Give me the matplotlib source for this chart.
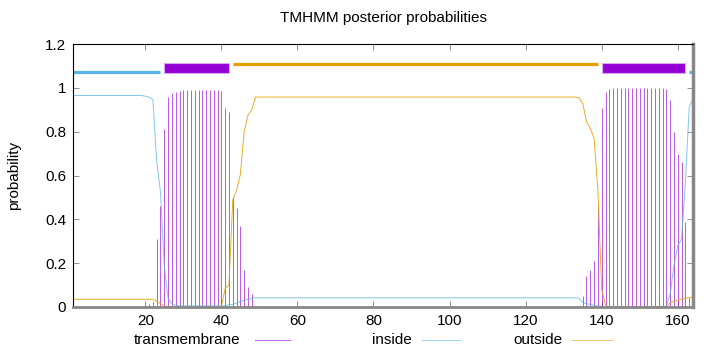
import numpy as np
import matplotlib
matplotlib.use("Agg")
import matplotlib.pyplot as plt
from matplotlib.lines import Line2D
from matplotlib.patches import Rectangle

plt.rcParams['font.family'] = ['Liberation Sans', 'DejaVu Sans']
plt.rcParams['font.size'] = 11

# residue numbers 1..164
residues = np.arange(1, 165)

# posterior probabilities, 10 residues per row
tm_prob = [
    0, 0, 0, 0, 0, 0, 0, 0, 0, 0,
    0, 0, 0, 0, 0, 0, 0, 0, 0, 0.01,
    0.012, 0.022, 0.31, 0.46, 0.81, 0.96, 0.975, 0.98, 0.985, 0.99,
    0.99, 0.99, 0.99, 0.99, 0.99, 0.99, 0.99, 0.99, 0.99, 0.985,
    0.91, 0.89, 0.50, 0.45, 0.37, 0.17, 0.09, 0.06, 0, 0,
    0, 0, 0, 0, 0, 0, 0, 0, 0, 0,
    0, 0, 0, 0, 0, 0, 0, 0, 0, 0,
    0, 0, 0, 0, 0, 0, 0, 0, 0, 0,
    0, 0, 0, 0, 0, 0, 0, 0, 0, 0,
    0, 0, 0, 0, 0, 0, 0, 0, 0, 0,
    0, 0, 0, 0, 0, 0, 0, 0, 0, 0,
    0, 0, 0, 0, 0, 0, 0, 0, 0, 0,
    0, 0, 0, 0, 0, 0, 0, 0, 0, 0,
    0, 0, 0, 0.005, 0.05, 0.14, 0.17, 0.21, 0.46, 0.91,
    0.98, 0.995, 1.0, 1.0, 1.0, 1.0, 1.0, 1.0, 1.0, 1.0,
    1.0, 1.0, 1.0, 1.0, 1.0, 1.0, 0.995, 0.945, 0.80, 0.70,
    0.66, 0.39, 0.04, 0.0,
]

inside_prob = [
    0.965, 0.965, 0.965, 0.965, 0.965, 0.965, 0.965, 0.965, 0.965, 0.965,
    0.965, 0.965, 0.965, 0.965, 0.965, 0.965, 0.965, 0.965, 0.965, 0.962,
    0.958, 0.945, 0.665, 0.525, 0.185, 0.04, 0.015, 0.008, 0.005, 0.005,
    0.005, 0.005, 0.005, 0.005, 0.005, 0.005, 0.005, 0.005, 0.005, 0.005,
    0.005, 0.01, 0.012, 0.018, 0.025, 0.03, 0.035, 0.04, 0.042, 0.042,
    0.042, 0.042, 0.042, 0.042, 0.042, 0.042, 0.042, 0.042, 0.042, 0.042,
    0.042, 0.042, 0.042, 0.042, 0.042, 0.042, 0.042, 0.042, 0.042, 0.042,
    0.042, 0.042, 0.042, 0.042, 0.042, 0.042, 0.042, 0.042, 0.042, 0.042,
    0.042, 0.042, 0.042, 0.042, 0.042, 0.042, 0.042, 0.042, 0.042, 0.042,
    0.042, 0.042, 0.042, 0.042, 0.042, 0.042, 0.042, 0.042, 0.042, 0.042,
    0.042, 0.042, 0.042, 0.042, 0.042, 0.042, 0.042, 0.042, 0.042, 0.042,
    0.042, 0.042, 0.042, 0.042, 0.042, 0.042, 0.042, 0.042, 0.042, 0.042,
    0.042, 0.042, 0.042, 0.042, 0.042, 0.042, 0.042, 0.042, 0.042, 0.042,
    0.042, 0.042, 0.042, 0.04, 0.02, 0.015, 0.012, 0.008, 0.005, 0.003,
    0.001, 0.001, 0.001, 0.001, 0.001, 0.001, 0.001, 0.001, 0.001, 0.001,
    0.001, 0.001, 0.001, 0.001, 0.001, 0.001, 0.005, 0.06, 0.19, 0.28,
    0.31, 0.57, 0.91, 0.955,
]

outside_prob = [
    0.035, 0.035, 0.035, 0.035, 0.035, 0.035, 0.035, 0.035, 0.035, 0.035,
    0.035, 0.035, 0.035, 0.035, 0.035, 0.035, 0.035, 0.035, 0.035, 0.035,
    0.035, 0.035, 0.025, 0.015, 0.005, 0.001, 0.001, 0.001, 0.001, 0.001,
    0.001, 0.001, 0.001, 0.001, 0.001, 0.001, 0.001, 0.001, 0.001, 0.001,
    0.085, 0.10, 0.488, 0.532, 0.605, 0.80, 0.875, 0.90, 0.958, 0.958,
    0.958, 0.958, 0.958, 0.958, 0.958, 0.958, 0.958, 0.958, 0.958, 0.958,
    0.958, 0.958, 0.958, 0.958, 0.958, 0.958, 0.958, 0.958, 0.958, 0.958,
    0.958, 0.958, 0.958, 0.958, 0.958, 0.958, 0.958, 0.958, 0.958, 0.958,
    0.958, 0.958, 0.958, 0.958, 0.958, 0.958, 0.958, 0.958, 0.958, 0.958,
    0.958, 0.958, 0.958, 0.958, 0.958, 0.958, 0.958, 0.958, 0.958, 0.958,
    0.958, 0.958, 0.958, 0.958, 0.958, 0.958, 0.958, 0.958, 0.958, 0.958,
    0.958, 0.958, 0.958, 0.958, 0.958, 0.958, 0.958, 0.958, 0.958, 0.958,
    0.958, 0.958, 0.958, 0.958, 0.958, 0.958, 0.958, 0.958, 0.958, 0.958,
    0.958, 0.958, 0.958, 0.955, 0.93, 0.845, 0.815, 0.77, 0.53, 0.08,
    0.01, 0, 0, 0, 0, 0, 0, 0, 0, 0,
    0, 0, 0, 0, 0, 0, 0, 0.02, 0.025, 0.03,
    0.035, 0.04, 0.042, 0.045,
]

# predicted topology: (kind, first residue, last residue)
topology = [
    ("inside", 1, 24),
    ("TM", 25, 42),
    ("outside", 43, 139),
    ("TM", 140, 162),
    ("inside", 163, 164),
]

c_tm = '#9400d3'
c_in = '#56b4e9'
c_out = '#e69f00'

fig = plt.figure(figsize=(7.2, 3.52), dpi=100)
ax = fig.add_axes([73 / 720, 1 - 307 / 352, 620 / 720, 263 / 352])

ax.vlines(residues, 0, tm_prob, color=c_tm, lw=0.7, alpha=0.65)
ax.plot(residues, inside_prob, color=c_in, lw=0.7, alpha=0.75)
ax.plot(residues, outside_prob, color=c_out, lw=0.7, alpha=0.85)

# topology bars on top
for kind, a, b in topology:
    if kind == "TM":
        ax.add_patch(Rectangle((a, 1.066), b - a, 0.046, facecolor=c_tm,
                               edgecolor='#d9a6f0', lw=0.8))
    elif kind == "inside":
        ax.plot([a, b], [1.072, 1.072], color=c_in, lw=2.3, solid_capstyle='butt')
    else:
        ax.plot([a, b], [1.109, 1.109], color=c_out, lw=2.3, solid_capstyle='butt')

ax.set_xlim(1, 164)
ax.set_ylim(0, 1.2)
ax.set_xticks([20, 40, 60, 80, 100, 120, 140, 160])
ax.set_yticks([0, 0.2, 0.4, 0.6, 0.8, 1.0, 1.2])
ax.set_yticklabels(['0', '0.2', '0.4', '0.6', '0.8', '1', '1.2'])
ax.tick_params(direction='in', length=4, width=0.6, color='#808080',
               top=True, right=True, labelsize=11, pad=5)

for s in ['left', 'top']:
    ax.spines[s].set_color('black')
    ax.spines[s].set_linewidth(0.8)
ax.spines['bottom'].set_color('#888888')
ax.spines['bottom'].set_linewidth(2.0)
ax.spines['right'].set_color('#888888')
ax.spines['right'].set_linewidth(2.5)

ax.set_ylabel('probability', fontsize=11, labelpad=17)
fig.text(383 / 720, 1 - 18 / 352, 'TMHMM posterior probabilities',
         ha='center', va='center', fontsize=11)

# gnuplot-style key under the plot: text then sample line
key = [("transmembrane", 240, 255, 290, c_tm),
       ("inside", 412, 422, 460, c_in),
       ("outside", 563, 572, 612, c_out)]
ky = 1 - 340 / 352
for label, tx, x0, x1, col in key:
    fig.text(tx / 720, ky, label, ha='right', va='center', fontsize=11)
    fig.add_artist(Line2D([x0 / 720, x1 / 720], [ky, ky], color=col, lw=0.7,
                          alpha=0.6, transform=fig.transFigure))

fig.savefig('out.png', dpi=100)
